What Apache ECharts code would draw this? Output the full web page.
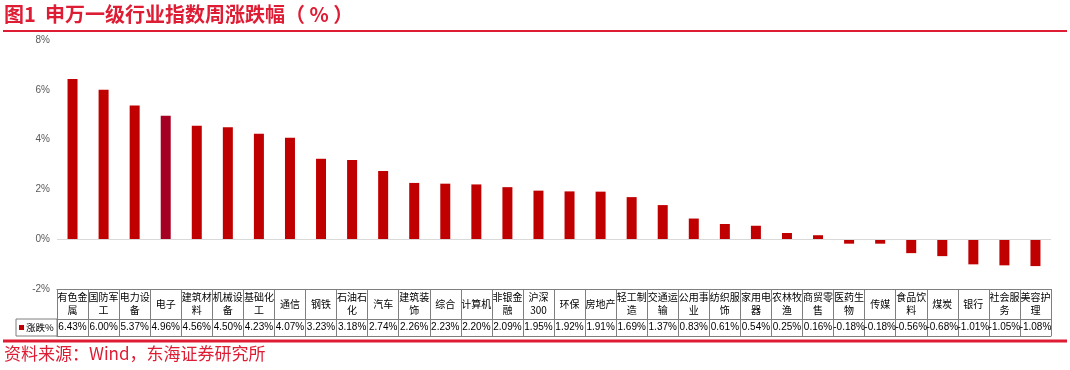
<!DOCTYPE html>
<html>
<head>
<meta charset="utf-8">
<script src="https://cdn.jsdelivr.net/npm/echarts@6/dist/echarts.min.js"></script>
<style>
  html, body { margin: 0; padding: 0; background: #fff; }
  #main { width: 1070px; height: 370px; }
</style>
</head>
<body>
<div id="main"></div>
<script>
// 行业名称
let categories = ['有色金属', '国防军工', '电力设备', '电子', '建筑材料', '机械设备', '基础化工', '通信', '钢铁', '石油石化',
    '汽车', '建筑装饰', '综合', '计算机', '非银金融', '沪深300', '环保', '房地产', '轻工制造', '交通运输',
    '公用事业', '纺织服饰', '家用电器', '农林牧渔', '商贸零售', '医药生物', '传媒', '食品饮料', '煤炭', '银行',
    '社会服务', '美容护理'];
// 周涨跌幅 %
let changes = [6.43, 6.00, 5.37, 4.96, 4.56, 4.50, 4.23, 4.07, 3.23, 3.18,
    2.74, 2.26, 2.23, 2.20, 2.09, 1.95, 1.92, 1.91, 1.69, 1.37,
    0.83, 0.61, 0.54, 0.25, 0.16, -0.18, -0.18, -0.56, -0.68, -1.01,
    -1.05, -1.08];
// 纵轴刻度
let yTicks = [-2, 0, 2, 4, 6, 8];

let red = '#C00000';
let titleRed = '#DE1C34';
let gridLine = '#7F7F7F';
let font = '"Noto Sans CJK SC", "Noto Sans", sans-serif';
let numFont = 'Arial, "Liberation Sans", sans-serif';

// 表头换行
function wrapName(name) {
    if (name.length <= 3) {
        return name;
    }
    if (/\d/.test(name)) {
        return name.slice(0, 2) + '\n' + name.slice(2);
    }
    return name.slice(0, 3) + '\n' + name.slice(3);
}

let chart = echarts.init(document.getElementById('main'));

let option = {
    animation: false,
    textStyle: { fontFamily: font },
    grid: { left: 57, right: 19, top: 40, bottom: 81 },
    xAxis: [
        {
            type: 'category',
            data: categories,
            position: 'bottom',
            axisLine: { show: true, onZero: false, lineStyle: { color: gridLine, width: 1 } },
            axisTick: { show: true, interval: 0, length: 47, lineStyle: { color: gridLine } },
            axisLabel: {
                interval: 0, margin: 15, fontSize: 10, lineHeight: 13, color: '#000',
                verticalAlign: 'middle',
                fontFamily: font,
                formatter: v => wrapName(v)
            }
        },
        {
            type: 'category',
            data: changes.map(v => v.toFixed(2) + '%'),
            position: 'bottom',
            offset: 30,
            axisLine: { show: true, onZero: false, lineStyle: { color: gridLine, width: 1 } },
            axisTick: { show: false },
            axisLabel: {
                interval: 0, margin: 8.5, fontSize: 10, color: '#000',
                verticalAlign: 'middle', fontFamily: numFont
            }
        },
        {
            type: 'category',
            data: categories,
            position: 'bottom',
            offset: 47,
            axisLine: { show: true, onZero: false, lineStyle: { color: gridLine, width: 1 } },
            axisTick: { show: false },
            axisLabel: { show: false }
        }
    ],
    yAxis: {
        type: 'value',
        min: yTicks[0],
        max: yTicks[yTicks.length - 1],
        interval: 2,
        axisLine: { show: false },
        axisTick: { show: false },
        splitLine: { show: false },
        axisLabel: {
            margin: 7, fontSize: 10, color: '#595959',
            fontFamily: numFont,
            formatter: '{value}%'
        }
    },
    series: [
        {
            name: '涨跌%',
            type: 'bar',
            barWidth: 10,
            data: changes.map((v, i) => ({
                value: v,
                itemStyle: { color: categories[i] === '电子' ? '#A50021' : red }
            })),
            markLine: {
                silent: true,
                symbol: 'none',
                label: { show: false },
                lineStyle: { color: '#D9D9D9', type: 'solid', width: 1 },
                data: [{ yAxis: 0 }]
            }
        }
    ],
    graphic: [
        {
            type: 'text', left: 4, top: 4,
            style: { text: '图1  申万一级行业指数周涨跌幅（ % ）', fill: titleRed, font: 'bold 20px ' + font }
        },
        {
            type: 'line', shape: { x1: 3, y1: 31, x2: 1067, y2: 31 },
            style: { stroke: titleRed, lineWidth: 2 }
        },
        {
            type: 'rect', shape: { x: 16, y: 319, width: 41, height: 17 },
            style: { fill: 'none', stroke: gridLine, lineWidth: 1 }
        },
        {
            type: 'rect', shape: { x: 19, y: 325, width: 5, height: 5 },
            style: { fill: red }
        },
        {
            type: 'text', x: 26, y: 327.5,
            style: { text: '涨跌%', fill: '#000', font: '9.5px ' + font, verticalAlign: 'middle' }
        },
        {
            type: 'line', shape: { x1: 3, y1: 341, x2: 1067, y2: 341 },
            style: { stroke: titleRed, lineWidth: 3 }
        },
        {
            type: 'text', left: 4, top: 345,
            style: { text: '资料来源：Wind，东海证券研究所', fill: titleRed, font: '17px ' + font }
        }
    ]
};

chart.setOption(option);
</script>
</body>
</html>
